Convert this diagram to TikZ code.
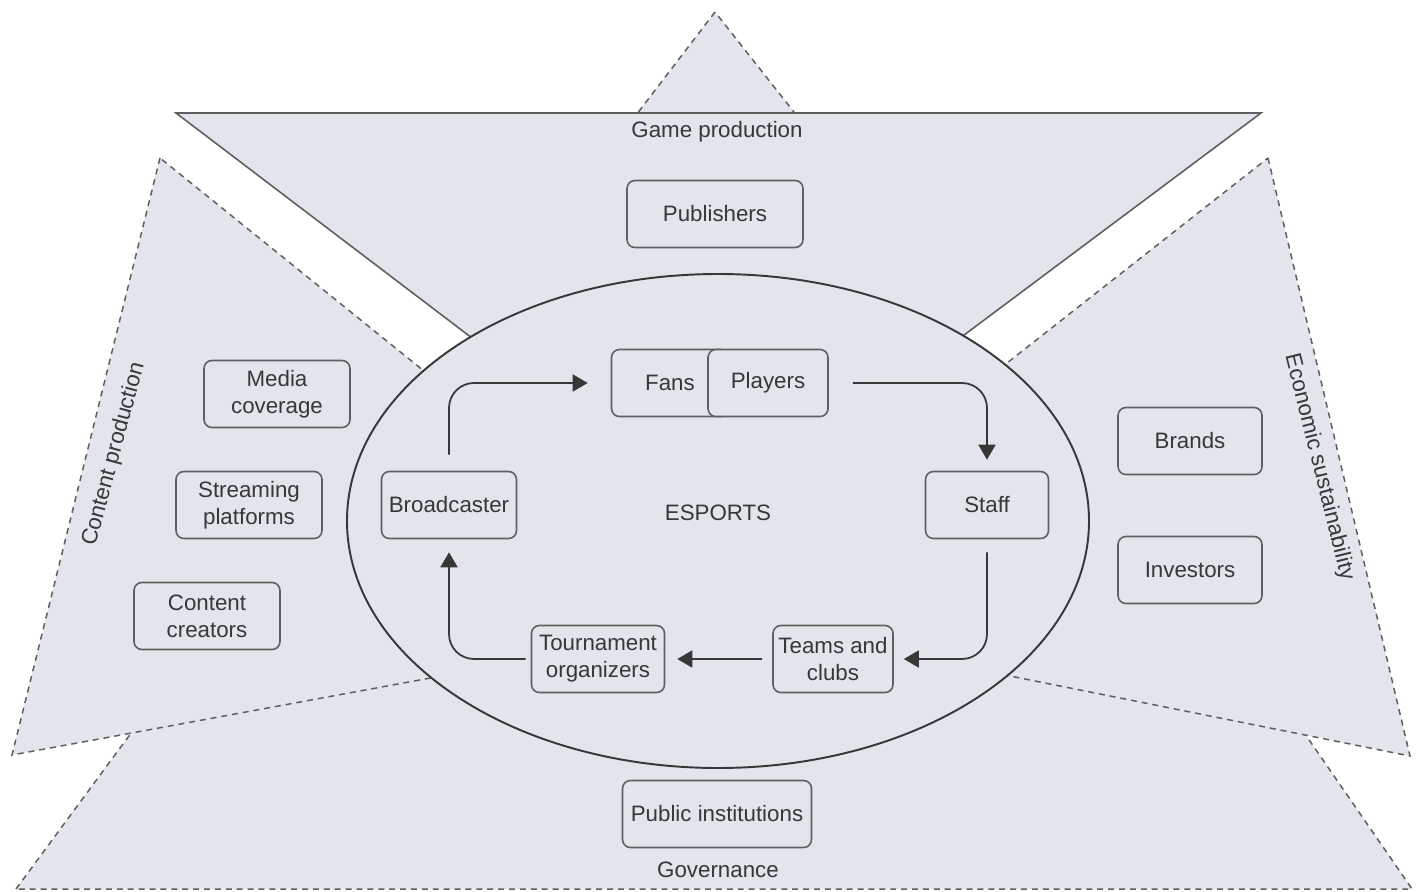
\documentclass[tikz,border=0pt]{standalone}
\usepackage{fontspec}
\setmainfont{Liberation Sans}
\usepackage{xcolor}
\usetikzlibrary{arrows.meta}
\definecolor{sectorFill}{RGB}{226,229,235}
\definecolor{edgeGray}{RGB}{95,95,95}
\definecolor{inkGray}{RGB}{55,55,55}
\tikzset{
sectorMe/.style={fill=sectorFill, draw=edgeGray, line width=0.85pt,
    dash pattern=on 3.4pt off 2.8pt},
actorBox/.style={draw=edgeGray, fill=sectorFill, line width=0.9pt,
    rounded corners=4.5pt, align=center, text=inkGray, inner sep=0pt,
    minimum height=1.34cm, font=\fontsize{12.7}{15.3}\selectfont},
labelMe/.style={text=inkGray, inner sep=0pt, font=\fontsize{12.7}{15.3}\selectfont},
flowMe/.style={-{Triangle[length=0.3cm,width=0.34cm]}, draw=inkGray,
    line width=1pt, rounded corners=0.5cm}
}

\begin{document}
\begin{tikzpicture}[x=0.02cm,y=-0.02cm]
    \fill[white] (0,0) rectangle (1426,892);
    \useasboundingbox (0,0) rectangle (1426,892);
    \coordinate (t_1) at (715,12);
    \coordinate (t_2) at (617,140);
    \coordinate (t_3) at (816,140);
    \coordinate (b_1) at (16,889);
    \coordinate (b_2) at (340,450);
    \coordinate (b_3) at (1109,450);
    \coordinate (b_4) at (1412,889);
    \coordinate (l_1) at (160,158);
    \coordinate (l_2) at (12,755);
    \coordinate (l_3) at (735,622);
    \coordinate (r_1) at (1268,158);
    \coordinate (r_2) at (1410,756);
    \coordinate (r_3) at (690,612);
    \coordinate (g_1) at (176,113);
    \coordinate (g_2) at (1261,113);
    \coordinate (g_3) at (714,522);
    \filldraw[sectorMe] (t_1) -- (t_2) -- (t_3) -- cycle;
    \filldraw[sectorMe] (b_1) -- (b_2) -- (b_3) -- (b_4) -- cycle;
    \filldraw[sectorMe] (l_1) -- (l_2) -- (l_3) -- cycle;
    \filldraw[sectorMe] (r_1) -- (r_2) -- (r_3) -- cycle;
    \filldraw[fill=sectorFill, draw=edgeGray, line width=0.9pt] (g_1) -- (g_2) -- (g_3) -- cycle;
    \filldraw[fill=sectorFill, draw=inkGray, line width=1.1pt] (718,521) ellipse [x radius=371, y radius=247];

    \node[labelMe] (game) at (717,132) {Game production};
    \node[labelMe] (gov) at (718,870) {Governance};
    \node[labelMe, rotate=75] (content) at (114,454) {Content production};
    \node[labelMe, rotate=-76] (econ) at (1319,467) {Economic sustainability};
    \node[labelMe] (esports) at (718,513) {ESPORTS};

    \node[actorBox, minimum width=3.52cm] (pub) at (715,214) {Publishers};
    \node[actorBox, minimum width=2.92cm] (media) at (277,394) {Media\\coverage};
    \node[actorBox, minimum width=2.92cm] (stream) at (249,505) {Streaming\\platforms};
    \node[actorBox, minimum width=2.92cm] (creators) at (207,616) {Content\\creators};
    \node[actorBox, minimum width=2.88cm] (brands) at (1190,441) {Brands};
    \node[actorBox, minimum width=2.88cm] (investors) at (1190,570) {Investors};
    \node[actorBox, minimum width=3.78cm] (public) at (717,814) {Public institutions};

    \node[actorBox, minimum width=2.34cm] (fans) at (670,383) {Fans};
    \node[actorBox, minimum width=2.4cm] (players) at (768,383) {Players};
    \node[actorBox, minimum width=2.46cm] (staff) at (987,505) {Staff};
    \node[actorBox, minimum width=2.4cm] (teams) at (833,659) {Teams and\\clubs};
    \node[actorBox, minimum width=2.66cm] (tour) at (598,659) {Tournament\\organizers};
    \node[actorBox, minimum width=2.7cm] (bc) at (449,505) {Broadcaster};

    \draw[flowMe, shorten <=0.32cm, shorten >=0.46cm] (bc.north) |- (fans.west);
    \draw[flowMe, shorten <=0.48cm, shorten >=0.22cm] (players.east) -| (staff.north);
    \draw[flowMe, shorten <=0.26cm, shorten >=0.2cm] (staff.south) |- (teams.east);
    \draw[flowMe, shorten <=0.2cm, shorten >=0.24cm] (teams.west) -- (tour.east);
    \draw[flowMe, shorten <=0.1cm, shorten >=0.26cm] (tour.west) -| (bc.south);
\end{tikzpicture}
\end{document}
